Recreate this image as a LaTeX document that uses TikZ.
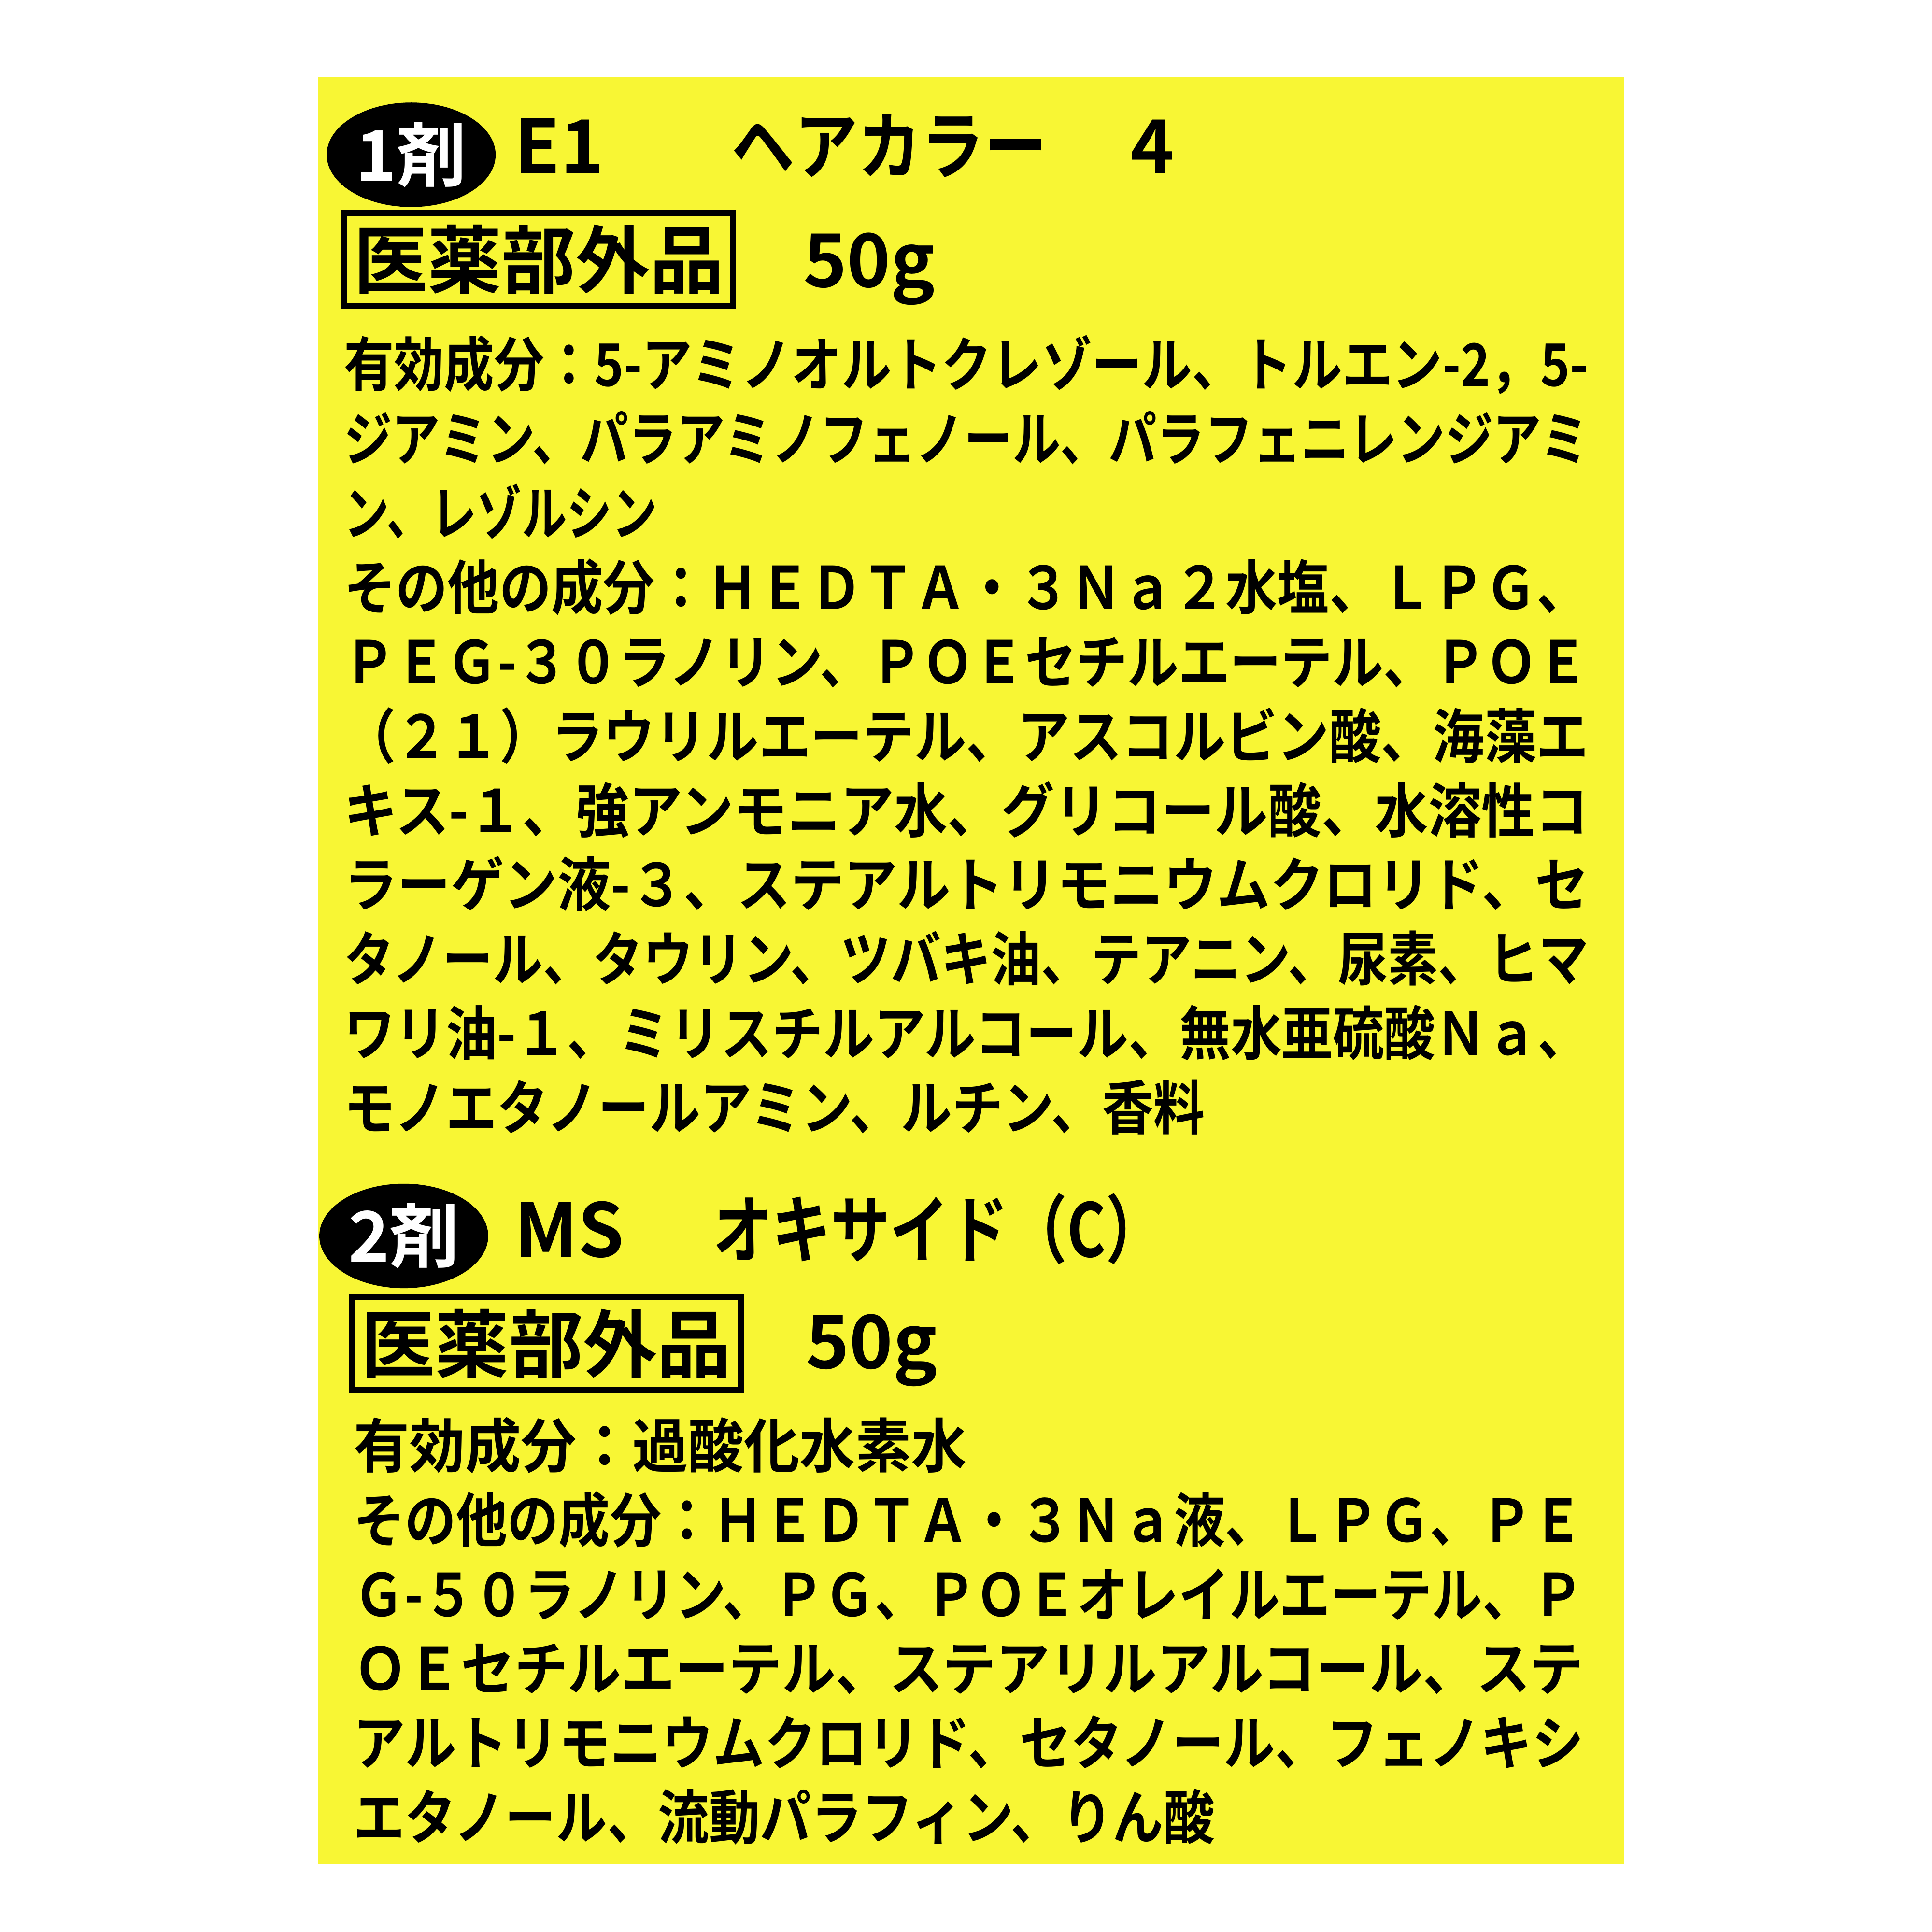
\documentclass[tikz,border=0pt]{standalone}
\usepackage{fontspec}
\usepackage{graphicx}
\setmainfont{Noto Sans CJK JP}[BoldFont={* Bold}]
\definecolor{labelyellow}{RGB}{248,246,52}
\tikzset{
  body/.style={anchor=base west, inner sep=0pt, font=\bfseries\fontsize{13.5}{14}\selectfont},
  head/.style={anchor=base west, inner sep=0pt, font=\bfseries\fontsize{17}{18}\selectfont},
  badge/.style={ellipse, fill=black, text=white, inner sep=1pt, minimum width=1.28cm, minimum height=0.58cm, font=\bfseries\fontsize{16}{17}\selectfont},
  quasibox/.style={draw, line width=1.4pt, inner sep=0pt, minimum width=3.14cm, minimum height=0.75cm, font=\bfseries\fontsize{17}{18}\selectfont}
}
\usetikzlibrary{shapes.geometric}
\newcommand{\fitline}[2]{\resizebox{#1}{\height}{#2}}
\begin{document}
\begin{tikzpicture}
\useasboundingbox (0,0) rectangle (15.6,15.6);
\fill[labelyellow] (2.57,15.6-15.05) rectangle (13.11,15.6-0.62);
% first part
\node[badge] (b1) at (3.32,15.6-1.25) {1剤};
\node[head] (e1) at (4.15,15.6-1.40) {E1};
\node[head] (n1) at (5.90,15.6-1.40) {\fitline{2.55cm}{ヘアカラー}};
\node[head] (v1) at (9.12,15.6-1.40) {4};
\node[quasibox] (q1) at (4.35,15.6-2.095) {医薬部外品};
\node[head] (w1) at (6.48,15.6-2.32) {50g};
\node[body] (a1) at (2.77,15.6-3.12) {\fitline{10.05cm}{有効成分：5-アミノオルトクレゾール、トルエン-2，5-}};
\node[body] (a2) at (2.77,15.6-3.72) {\fitline{10.05cm}{ジアミン、パラアミノフェノール、パラフェニレンジアミ}};
\node[body] (a3) at (2.77,15.6-4.32) {\fitline{2.53cm}{ン、レゾルシン}};
\node[body] (o1) at (2.77,15.6-4.92) {\fitline{10.05cm}{その他の成分：ＨＥＤＴＡ・３Ｎａ２水塩、ＬＰＧ、}};
\node[body] (o2) at (2.77,15.6-5.52) {\fitline{10.05cm}{ＰＥＧ-３０ラノリン、ＰＯＥセチルエーテル、ＰＯＥ}};
\node[body] (o3) at (2.77,15.6-6.12) {\fitline{10.05cm}{（２１）ラウリルエーテル、アスコルビン酸、海藻エ}};
\node[body] (o4) at (2.77,15.6-6.72) {\fitline{10.05cm}{キス-１、強アンモニア水、グリコール酸、水溶性コ}};
\node[body] (o5) at (2.77,15.6-7.32) {\fitline{10.05cm}{ラーゲン液-３、ステアルトリモニウムクロリド、セ}};
\node[body] (o6) at (2.77,15.6-7.92) {\fitline{10.05cm}{タノール、タウリン、ツバキ油、テアニン、尿素、ヒマ}};
\node[body] (o7) at (2.77,15.6-8.52) {\fitline{10.05cm}{ワリ油-１、ミリスチルアルコール、無水亜硫酸Ｎａ、}};
\node[body] (o8) at (2.77,15.6-9.12) {\fitline{6.95cm}{モノエタノールアミン、ルチン、香料}};
% second part
\node[badge] (b2) at (3.26,15.6-9.98) {2剤};
\node[head] (e2) at (4.15,15.6-10.15) {MS};
\node[head] (n2) at (5.75,15.6-10.15) {\fitline{3.65cm}{オキサイド（C）}};
\node[quasibox] (q2) at (4.41,15.6-10.85) {医薬部外品};
\node[head] (w2) at (6.50,15.6-11.05) {50g};
\node[body] (c1) at (2.85,15.6-11.85) {\fitline{4.95cm}{有効成分：過酸化水素水}};
\node[body] (d1) at (2.85,15.6-12.45) {\fitline{9.93cm}{その他の成分：ＨＥＤＴＡ・３Ｎａ液、ＬＰＧ、ＰＥ}};
\node[body] (d2) at (2.85,15.6-13.05) {\fitline{9.93cm}{Ｇ-５０ラノリン、ＰＧ、ＰＯＥオレイルエーテル、Ｐ}};
\node[body] (d3) at (2.85,15.6-13.65) {\fitline{9.93cm}{ＯＥセチルエーテル、ステアリルアルコール、ステ}};
\node[body] (d4) at (2.85,15.6-14.25) {\fitline{9.93cm}{アルトリモニウムクロリド、セタノール、フェノキシ}};
\node[body] (d5) at (2.85,15.6-14.85) {\fitline{6.95cm}{エタノール、流動パラフィン、りん酸}};
\end{tikzpicture}
\end{document}
